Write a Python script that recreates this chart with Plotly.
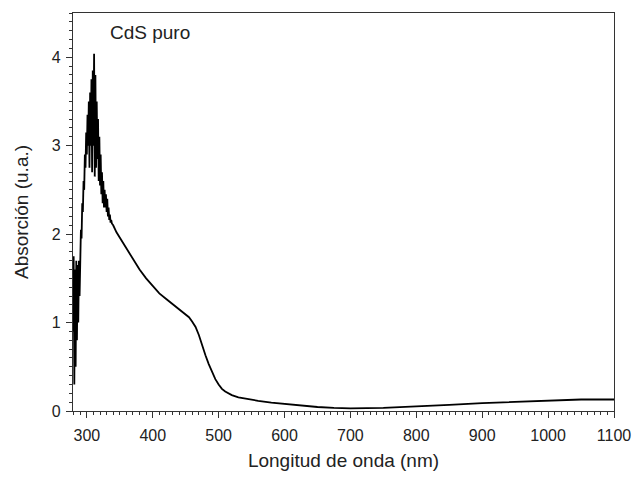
import plotly.graph_objects as go

# Wavelength (nm) and absorbance (u.a.)
wavelength = [279, 280, 281, 282, 283, 284, 285, 286, 287, 288, 289, 290,
              291, 292, 293, 294, 295, 296, 297, 298, 299, 300, 301, 302,
              303, 304, 305, 306, 307, 308, 309, 310, 311, 312, 313, 314,
              315, 316, 317, 318, 319, 320, 321, 322, 323, 324, 325, 326,
              327, 328, 329, 330, 331, 332, 333, 334, 335, 336, 337, 338,
              340, 345, 350, 355, 360, 370, 380, 390, 400, 410, 420, 430,
              440, 450, 455, 460, 465, 470, 475, 480, 485, 490, 495, 500,
              505, 510, 520, 530, 540, 560, 580, 600, 625, 650, 675, 700,
              750, 800, 850, 900, 950, 1000, 1050, 1100]
absorbance = [0.9, 1.75, 0.3, 1.6, 0.5, 1.7, 0.8, 1.65, 1.0, 1.7, 1.3, 1.9,
              2.05, 1.95, 2.35, 2.25, 2.6, 2.5, 2.9, 2.75, 3.15, 2.9, 3.35, 3.0,
              3.5, 2.75, 3.6, 3.0, 3.75, 2.7, 3.85, 3.0, 4.04, 2.65, 3.8, 2.75,
              3.5, 2.85, 3.3, 2.6, 3.1, 2.55, 2.9, 2.45, 2.7, 2.35, 2.6, 2.3,
              2.5, 2.3, 2.45, 2.25, 2.4, 2.2, 2.3, 2.16, 2.22, 2.13, 2.16, 2.12,
              2.1, 2.02, 1.96, 1.9, 1.83, 1.71, 1.6, 1.5, 1.41, 1.33, 1.27, 1.21,
              1.16, 1.1, 1.06, 1.01, 0.95, 0.86, 0.74, 0.63, 0.53, 0.44, 0.36, 0.3,
              0.25, 0.22, 0.18, 0.155, 0.14, 0.115, 0.095, 0.08, 0.06, 0.045, 0.035, 0.03,
              0.035, 0.05, 0.07, 0.09, 0.105, 0.12, 0.13, 0.13]

label_text = "CdS puro"
x_title = "Longitud de onda (nm)"
y_title = "Absorción (u.a.)"

FONT = "Liberation Sans, Arial, sans-serif"
INK = "#222222"

fig = go.Figure()
fig.add_trace(go.Scatter(x=wavelength, y=absorbance, mode="lines",
                         line=dict(color="black", width=1.8),
                         showlegend=False))

axis_common = dict(
    showline=True, linecolor="#333333", linewidth=1.3, mirror=True,
    showgrid=False, zeroline=False, ticks="outside", ticklen=6,
    tickcolor="#333333", tickwidth=1.3, automargin=False,
    tickfont=dict(family=FONT, size=16, color=INK),
)

fig.update_xaxes(range=[279, 1100], tick0=300, dtick=100,
                 ticklabelstandoff=4,
                 minor=dict(dtick=10, tick0=300, ticks="outside", ticklen=3,
                            tickcolor="#333333", tickwidth=1),
                 title=dict(text=x_title, standoff=10,
                            font=dict(family=FONT, size=19, color=INK)),
                 **axis_common)
fig.update_yaxes(range=[0, 4.5], tick0=0, dtick=1,
                 ticklabelstandoff=2,
                 minor=dict(dtick=0.1, tick0=0, ticks="outside", ticklen=3,
                            tickcolor="#333333", tickwidth=1),
                 title=dict(text=y_title, standoff=18,
                            font=dict(family=FONT, size=19, color=INK)),
                 **axis_common)

fig.add_annotation(text=label_text, xref="paper", yref="paper",
                   x=0.064, y=0.952, xanchor="left", yanchor="middle",
                   showarrow=False,
                   font=dict(family=FONT, size=19, color=INK))

fig.update_layout(width=636, height=477,
                  margin=dict(l=73, r=22, t=13, b=66),
                  paper_bgcolor="white", plot_bgcolor="white")

fig.write_html("out.html")
